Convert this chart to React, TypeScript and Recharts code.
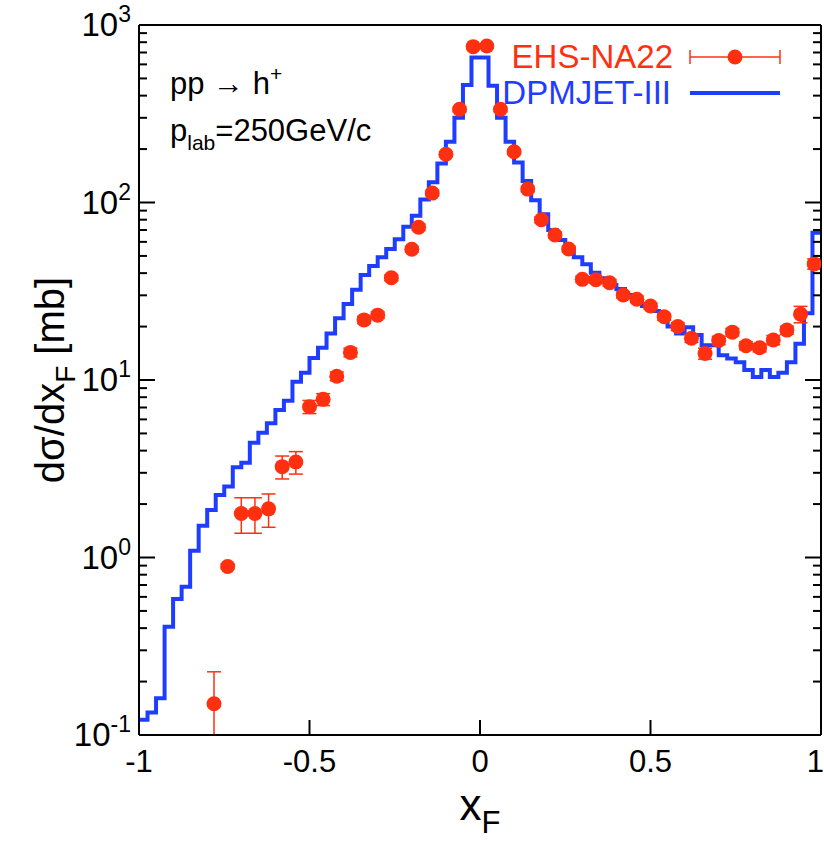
import React from 'react';
import { ComposedChart, Line, Scatter, ErrorBar, XAxis, YAxis } from 'recharts';

const RED = '#ff3010';
const BLUE = '#1f3dff';
const FONT = '"Liberation Sans", Arial, Helvetica, sans-serif';

// DPMJET-III histogram: bin edges in x_F and dσ/dx_F per bin (mb)
const binEdges = [
  -1, -0.975, -0.95, -0.925, -0.9, -0.875, -0.85, -0.825, -0.8, -0.775,
  -0.75, -0.725, -0.7, -0.675, -0.65, -0.625, -0.6, -0.575, -0.55, -0.525,
  -0.5, -0.475, -0.45, -0.425, -0.4, -0.375, -0.35, -0.325, -0.3, -0.275,
  -0.25, -0.225, -0.2, -0.175, -0.15, -0.125, -0.1, -0.075, -0.05, -0.025,
  0, 0.025, 0.05, 0.075, 0.1, 0.125, 0.15, 0.175, 0.2, 0.225,
  0.25, 0.275, 0.3, 0.325, 0.35, 0.375, 0.4, 0.425, 0.45, 0.475,
  0.5, 0.525, 0.55, 0.575, 0.6, 0.625, 0.65, 0.675, 0.7, 0.725,
  0.75, 0.775, 0.8, 0.825, 0.85, 0.875, 0.9, 0.925, 0.95, 0.975, 1,
];
const dpmjet = [
  0.122, 0.134, 0.161, 0.407, 0.583, 0.685, 1.09, 1.51, 1.85, 2.25,
  2.51, 3.22, 3.42, 4.43, 5.05, 5.7, 6.78, 7.64, 9.78, 11.0,
  13.3, 15.2, 18.3, 22.3, 26.8, 32.2, 39.1, 43.9, 49.1, 54.7,
  62.1, 73.1, 84.3, 104, 130, 166, 220, 300, 459, 655,
  655, 455, 300, 220, 168, 132, 103, 85.8, 70.0, 61.5,
  54.7, 49.1, 44.9, 40.2, 37.4, 34.3, 32.6, 30.1, 28.0, 26.1,
  24.5, 22.7, 20.0, 18.3, 19.8, 17.9, 15.7, 15.7, 13.8, 13.2,
  12.6, 11.4, 10.4, 11.4, 10.4, 11.0, 12.6, 16.0, 23.8, 67.6,
];

// EHS-NA22 data points
const naX = [
  -0.78, -0.74, -0.7, -0.66, -0.62, -0.58, -0.54, -0.5, -0.46, -0.42,
  -0.38, -0.34, -0.3, -0.26, -0.2, -0.18, -0.14, -0.1, -0.06, -0.02,
  0.02, 0.06, 0.1, 0.14, 0.18, 0.22, 0.26, 0.3, 0.34, 0.38,
  0.42, 0.46, 0.5, 0.54, 0.58, 0.62, 0.66, 0.7, 0.74, 0.78,
  0.82, 0.86, 0.9, 0.94, 0.98,
];
const naY = [
  0.15, 0.89, 1.77, 1.77, 1.88, 3.25, 3.45, 7.07, 7.78, 10.5,
  14.3, 21.8, 23.2, 37.7, 54.5, 72.5, 113, 187, 335, 755,
  761, 335, 193, 119, 80, 65.6, 54.7, 36.9, 36.7, 35.3,
  30.1, 28.5, 26.1, 22.7, 20.0, 17.2, 14.1, 16.7, 18.6, 15.6,
  15.2, 16.8, 19.1, 23.5, 45.1,
];
const naErr: (number | [number, number])[] = [
  [0.05, 0.077], 0.03, 0.4, 0.4, 0.4, 0.48, 0.5, 0.6, 0.6, 0.6,
  0.8, 1.0, 1.0, 1.5, 2, 3, 4, 6, 10, 20,
  20, 10, 6, 4, 3, 2.5, 2, 1.5, 1.5, 1.5,
  1.2, 1.2, 1.0, 1.0, 1.0, 0.9, 1.0, 0.9, 0.9, 0.8,
  0.8, 1.0, 1.0, 2.5, 3,
];

const xTicks = [-1, -0.5, 0, 0.5, 1];
const decades = [0.1, 1, 10, 100];
const mantissas = [1, 2, 3, 4, 5, 6, 7, 8, 9];
const yTicks = [...decades.flatMap((d) => mantissas.map((m) => +(d * m).toPrecision(3))), 1000];

const histData = binEdges.map((x, i) => ({ x, y: dpmjet[Math.min(i, dpmjet.length - 1)] }));
const naData = naX.map((x, i) => ({ x, y: naY[i], err: naErr[i] }));

const isMajor = (v: number) => {
  const e = Math.round(Math.log10(v));
  return Math.abs(v - Math.pow(10, e)) < 1e-6 * v;
};

const LeftTick = (props: any) => {
  const { x, y, payload } = props;
  const v = payload.value;
  const major = isMajor(v);
  const exp = Math.round(Math.log10(v));
  return (
    <g>
      <line x1={x} x2={x + (major ? 16 : 8)} y1={y} y2={y} stroke="#000" strokeWidth={2} />
      {major && (
        <text x={x - 8} y={y + 11} textAnchor="end" fontFamily={FONT} fontSize={33} fill="#000">
          10<tspan dy={-14} fontSize={23}>{exp}</tspan>
        </text>
      )}
    </g>
  );
};

const RightTick = (props: any) => {
  const { x, y, payload } = props;
  const major = isMajor(payload.value);
  return <line x1={x} x2={x - (major ? 16 : 8)} y1={y} y2={y} stroke="#000" strokeWidth={2} />;
};

const BottomTick = (props: any) => {
  const { x, y, payload } = props;
  const v = payload.value;
  const edge = v === -1 || v === 1;
  return (
    <g>
      {!edge && <line x1={x} x2={x} y1={y} y2={y - 15} stroke="#000" strokeWidth={2} />}
      <text
        x={v === 1 ? x + 3 : x}
        y={y + 37}
        textAnchor={v === 1 ? 'end' : 'middle'}
        fontFamily={FONT}
        fontSize={31}
        fill="#000"
      >
        {String(v)}
      </text>
    </g>
  );
};

const TopTick = (props: any) => {
  const { x, y, payload } = props;
  const v = payload.value;
  if (v === -1 || v === 1) return <g />;
  return <line x1={x} x2={x} y1={y} y2={y + 15} stroke="#000" strokeWidth={2} />;
};

const Dot = (props: any) => <circle cx={props.cx} cy={props.cy} r={7.5} fill={RED} />;

export default function App() {
  return (
    <div style={{ position: 'absolute', left: 0, top: 0, width: 824, height: 845, background: '#fff' }}>
      <ComposedChart width={824} height={845} margin={{ top: 24, right: 2, bottom: 0, left: 0 }}>
        <XAxis
          dataKey="x"
          type="number"
          domain={[-1, 1]}
          ticks={xTicks}
          allowDataOverflow
          height={110}
          tickSize={0}
          tickMargin={0}
          tickLine={false}
          axisLine={{ stroke: '#000', strokeWidth: 2 }}
          tick={<BottomTick />}
          interval={0}
        />
        <XAxis
          xAxisId="top"
          orientation="top"
          dataKey="x"
          type="number"
          domain={[-1, 1]}
          ticks={xTicks}
          height={1}
          tickSize={0}
          tickMargin={0}
          tickLine={false}
          axisLine={{ stroke: '#000', strokeWidth: 2 }}
          tick={<TopTick />}
          interval={0}
        />
        <YAxis
          dataKey="y"
          type="number"
          scale="log"
          domain={[0.1, 1000]}
          ticks={yTicks}
          allowDataOverflow
          width={139}
          tickSize={0}
          tickMargin={0}
          tickLine={false}
          axisLine={{ stroke: '#000', strokeWidth: 2 }}
          tick={<LeftTick />}
          interval={0}
        />
        <YAxis
          yAxisId="right"
          orientation="right"
          type="number"
          scale="log"
          domain={[0.1, 1000]}
          ticks={yTicks}
          allowDataOverflow
          width={1}
          tickSize={0}
          tickMargin={0}
          tickLine={false}
          axisLine={{ stroke: '#000', strokeWidth: 2 }}
          tick={<RightTick />}
          interval={0}
        />
        <Line
          data={histData}
          dataKey="y"
          type="stepAfter"
          stroke={BLUE}
          strokeWidth={4}
          dot={false}
          activeDot={false}
          isAnimationActive={false}
        />
        <Scatter data={naData} dataKey="y" fill={RED} shape={<Dot />} isAnimationActive={false}>
          <ErrorBar dataKey="err" direction="y" width={7} stroke={RED} strokeWidth={1.5} />
        </Scatter>
      </ComposedChart>
      <svg
        width={824}
        height={845}
        style={{ position: 'absolute', left: 0, top: 0, pointerEvents: 'none' }}
        fontFamily={FONT}
      >
        <text x={673} y={68} textAnchor="end" fontSize={33} fill={RED}>EHS-NA22</text>
        <line x1={690} x2={780} y1={57} y2={57} stroke={RED} strokeWidth={1.5} />
        <line x1={690} x2={690} y1={50} y2={64} stroke={RED} strokeWidth={1.5} />
        <line x1={780} x2={780} y1={50} y2={64} stroke={RED} strokeWidth={1.5} />
        <circle cx={735} cy={57} r={7.5} fill={RED} />
        <text x={671} y={104} textAnchor="end" fontSize={33} fill={BLUE}>DPMJET-III</text>
        <line x1={690} x2={780} y1={93} y2={93} stroke={BLUE} strokeWidth={4} />
        <text x={170} y={94} fontSize={31} fill="#000">
          pp → h<tspan dy={-13} fontSize={21}>+</tspan>
        </text>
        <text x={170} y={141} fontSize={31} fill="#000">
          p<tspan dy={9} fontSize={21}>lab</tspan>
          <tspan dy={-9}>=250GeV/c</tspan>
        </text>
        <text x={480} y={820} textAnchor="middle" fontSize={44} fill="#000">
          x<tspan dy={13} fontSize={31}>F</tspan>
        </text>
        <text transform="translate(64,380) rotate(-90)" textAnchor="middle" fontSize={40} fill="#000">
          dσ/dx<tspan dy={11} fontSize={28}>F</tspan>
          <tspan dy={-11}> [mb]</tspan>
        </text>
      </svg>
    </div>
  );
}
